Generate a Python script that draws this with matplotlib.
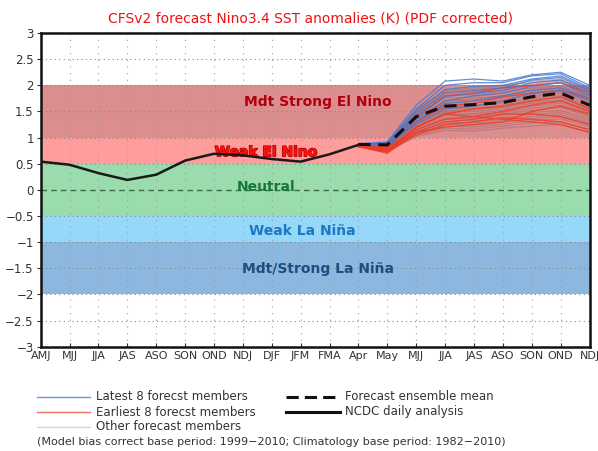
import matplotlib
matplotlib.use("Agg")
import matplotlib.pyplot as plt
from matplotlib.lines import Line2D
import matplotlib.patheffects as pe

# ---------------- data ----------------
season_labels = ["AMJ", "MJJ", "JJA", "JAS", "ASO", "SON", "OND", "NDJ", "DJF", "JFM",
                 "FMA", "Apr", "May", "MJJ", "JJA", "JAS", "ASO", "SON", "OND", "NDJ"]
y_ticks = [-3, -2.5, -2, -1.5, -1, -0.5, 0, 0.5, 1, 1.5, 2, 2.5, 3]
y_tick_labels = ["\u22123", "\u22122.5", "\u22122", "\u22121.5", "\u22121", "\u22120.5",
                 "0", "0.5", "1", "1.5", "2", "2.5", "3"]

obs_x = list(range(0, 12))
obs_values = [0.54, 0.48, 0.32, 0.19, 0.29, 0.56, 0.69, 0.66, 0.59, 0.54, 0.68, 0.86]

fc_x = list(range(11, 20))
ens_mean = [0.87, 0.86, 1.40, 1.60, 1.63, 1.67, 1.78, 1.85, 1.62]

latest8 = [
    [0.88, 0.92, 1.62, 2.08, 2.12, 2.08, 2.20, 2.25, 2.00],
    [0.88, 0.90, 1.55, 2.00, 2.05, 2.05, 2.18, 2.22, 1.95],
    [0.87, 0.90, 1.50, 1.92, 1.98, 2.00, 2.12, 2.18, 1.92],
    [0.87, 0.88, 1.45, 1.85, 1.90, 1.95, 2.10, 2.15, 1.90],
    [0.86, 0.88, 1.40, 1.78, 1.85, 1.90, 2.05, 2.10, 1.85],
    [0.86, 0.87, 1.35, 1.70, 1.80, 1.85, 1.98, 2.05, 1.80],
    [0.86, 0.86, 1.30, 1.65, 1.70, 1.80, 1.90, 1.95, 1.75],
    [0.85, 0.85, 1.25, 1.55, 1.60, 1.70, 1.85, 1.90, 1.70],
]
earliest8 = [
    [0.86, 0.80, 1.40, 1.80, 1.85, 1.95, 2.00, 2.05, 1.85],
    [0.86, 0.82, 1.30, 1.60, 1.65, 1.78, 1.85, 1.90, 1.75],
    [0.85, 0.78, 1.20, 1.45, 1.55, 1.60, 1.70, 1.78, 1.55],
    [0.85, 0.76, 1.15, 1.35, 1.40, 1.50, 1.62, 1.70, 1.50],
    [0.84, 0.75, 1.10, 1.30, 1.35, 1.45, 1.45, 1.40, 1.25],
    [0.84, 0.74, 1.05, 1.25, 1.30, 1.38, 1.35, 1.30, 1.15],
    [0.83, 0.72, 1.20, 1.45, 1.40, 1.35, 1.30, 1.25, 1.10],
    [0.83, 0.70, 1.10, 1.20, 1.25, 1.30, 1.50, 1.60, 1.45],
]
others = [
    [0.87, 0.84, 1.55, 1.90, 1.95, 2.00, 2.05, 2.10, 1.90],
    [0.87, 0.85, 1.50, 1.85, 1.88, 1.95, 2.02, 2.08, 1.85],
    [0.87, 0.86, 1.48, 1.80, 1.82, 1.90, 2.00, 2.05, 1.80],
    [0.86, 0.83, 1.45, 1.75, 1.78, 1.86, 1.95, 2.00, 1.78],
    [0.86, 0.82, 1.42, 1.70, 1.72, 1.80, 1.90, 1.95, 1.72],
    [0.86, 0.84, 1.40, 1.66, 1.70, 1.76, 1.86, 1.92, 1.70],
    [0.86, 0.85, 1.38, 1.62, 1.66, 1.72, 1.82, 1.88, 1.66],
    [0.85, 0.83, 1.36, 1.60, 1.62, 1.68, 1.78, 1.85, 1.62],
    [0.85, 0.82, 1.34, 1.58, 1.60, 1.66, 1.75, 1.80, 1.58],
    [0.85, 0.80, 1.32, 1.55, 1.56, 1.62, 1.72, 1.76, 1.55],
    [0.85, 0.81, 1.30, 1.52, 1.53, 1.58, 1.68, 1.72, 1.52],
    [0.84, 0.80, 1.28, 1.50, 1.50, 1.55, 1.65, 1.70, 1.50],
    [0.84, 0.79, 1.25, 1.48, 1.46, 1.52, 1.60, 1.66, 1.46],
    [0.84, 0.78, 1.22, 1.45, 1.44, 1.48, 1.56, 1.62, 1.42],
    [0.84, 0.79, 1.20, 1.42, 1.40, 1.45, 1.52, 1.58, 1.40],
    [0.83, 0.77, 1.18, 1.38, 1.36, 1.42, 1.48, 1.52, 1.36],
    [0.83, 0.76, 1.15, 1.35, 1.32, 1.38, 1.44, 1.48, 1.32],
    [0.83, 0.75, 1.12, 1.30, 1.28, 1.34, 1.40, 1.44, 1.28],
    [0.83, 0.76, 1.10, 1.26, 1.24, 1.30, 1.36, 1.40, 1.24],
    [0.82, 0.74, 1.08, 1.22, 1.20, 1.26, 1.32, 1.36, 1.20],
    [0.82, 0.73, 1.05, 1.18, 1.16, 1.22, 1.28, 1.30, 1.15],
    [0.82, 0.72, 1.02, 1.14, 1.12, 1.18, 1.22, 1.25, 1.10],
    [0.86, 0.88, 1.52, 1.88, 1.92, 1.98, 2.08, 2.12, 1.88],
    [0.85, 0.80, 1.28, 1.70, 1.75, 1.80, 1.92, 1.98, 1.76],
]

bands = [  # (low, high, colour)
    (1.0, 2.0, "#dc8e8e"),
    (0.5, 1.0, "#ff9c9c"),
    (-0.5, 0.5, "#9adcae"),
    (-1.0, -0.5, "#96d8f8"),
    (-2.0, -1.0, "#8cb8e0"),
]
band_labels = [  # (text, x, y, colour)
    ("Mdt Strong El Nino", 9.6, 1.68, "#b00010"),
    ("Weak El Nino", 7.8, 0.72, "#ff1010"),
    ("Neutral", 7.8, 0.06, "#15783a"),
    ("Weak La Ni\u00f1a", 9.05, -0.78, "#1c78c4"),
    ("Mdt/Strong La Ni\u00f1a", 9.6, -1.52, "#1b4f82"),
]

# ---------------- figure ----------------
fig = plt.figure(figsize=(5.98, 4.51), dpi=100)
ax = fig.add_axes([0.068, 0.2313, 0.9178, 0.6955])
ax.set_xlim(0, 19)
ax.set_ylim(-3, 3)

for lo, hi, c in bands:
    ax.axhspan(lo, hi, color=c, lw=0, zorder=0)

# grid
for xv in range(1, 19):
    ax.axvline(xv, color="#9a9a9a", lw=0.8, ls=(0, (1, 5)), zorder=1)
for yv in y_ticks[1:-1]:
    if yv == 0:
        ax.axhline(0, color="#3d6b4a", lw=1.0, ls=(0, (4, 3)), zorder=1)
    else:
        ax.axhline(yv, color="#888888", lw=0.8, ls=(0, (1, 3)), zorder=1)

for txt, x, y, c in band_labels:
    t = ax.text(x, y, txt, color=c, fontsize=10, fontweight="bold",
                ha="center", va="center", zorder=2)
    if txt.startswith("Weak El"):
        t.set_path_effects([pe.withStroke(linewidth=1.0, foreground="#b00000")])

for m in others:
    ax.plot(fc_x, m, color="#a86a6a", lw=0.9, alpha=0.55, zorder=3)
for m in earliest8:
    ax.plot(fc_x, m, color="#f03a22", lw=1.0, alpha=0.8, zorder=4)
for m in latest8:
    ax.plot(fc_x, m, color="#4a78d0", lw=0.9, alpha=0.85, zorder=4)

ax.plot(fc_x, ens_mean, color="#1a0a0a", lw=2.2, ls=(0, (4, 2.5)), zorder=6)
ax.plot(obs_x, obs_values, color="#1a1a1a", lw=1.8, zorder=6)

ax.set_xticks(range(20))
ax.set_xticklabels(season_labels)
ax.set_yticks(y_ticks)
ax.set_yticklabels(y_tick_labels)
ax.tick_params(axis="x", direction="in", length=3, labelsize=8, colors="#333333", pad=3)
ax.tick_params(axis="y", direction="out", length=3, labelsize=8.5, colors="#333333", pad=2)
for s in ax.spines.values():
    s.set_linewidth(1.8)
    s.set_color("#111111")
for lbl in ax.get_xticklabels():
    lbl.set_clip_on(False)

fig.text(0.52, 0.96, "CFSv2 forecast Nino3.4 SST anomalies (K) (PDF corrected)",
         color="#ee1111", fontsize=10, ha="center", va="center")

# ---------------- legend ----------------
W, H = 598.0, 451.0
def fx(px):
    return px / W
def fy(py):
    return 1 - py / H

leg_rows = [
    (397, "#6a96d0", "-", 1.0, "Latest 8 forecst members"),
    (412, "#f07060", "-", 1.0, "Earliest 8 forecst members"),
    (427, "#ddd2cc", "-", 1.0, "Other forecast members"),
]
for py, c, ls, lw, txt in leg_rows:
    fig.add_artist(Line2D([fx(37), fx(90)], [fy(py), fy(py)], color=c, lw=lw, ls=ls))
    fig.text(fx(96), fy(py), txt, fontsize=8.5, color="#333333", va="center", ha="left")

fig.add_artist(Line2D([fx(286), fx(340)], [fy(397), fy(397)], color="#111111", lw=2.2,
                      ls=(0, (4, 2))))
fig.text(fx(345), fy(397), "Forecast ensemble mean", fontsize=8.5, color="#333333",
         va="center", ha="left")
fig.add_artist(Line2D([fx(286), fx(340)], [fy(412), fy(412)], color="#111111", lw=2.2))
fig.text(fx(345), fy(412), "NCDC daily analysis", fontsize=8.5, color="#333333",
         va="center", ha="left")

fig.text(fx(37), fy(442),
         "(Model bias correct base period: 1999\u22122010; Climatology base period: 1982\u22122010)",
         fontsize=8, color="#333333", va="center", ha="left")

fig.savefig("out.png", dpi=100)
